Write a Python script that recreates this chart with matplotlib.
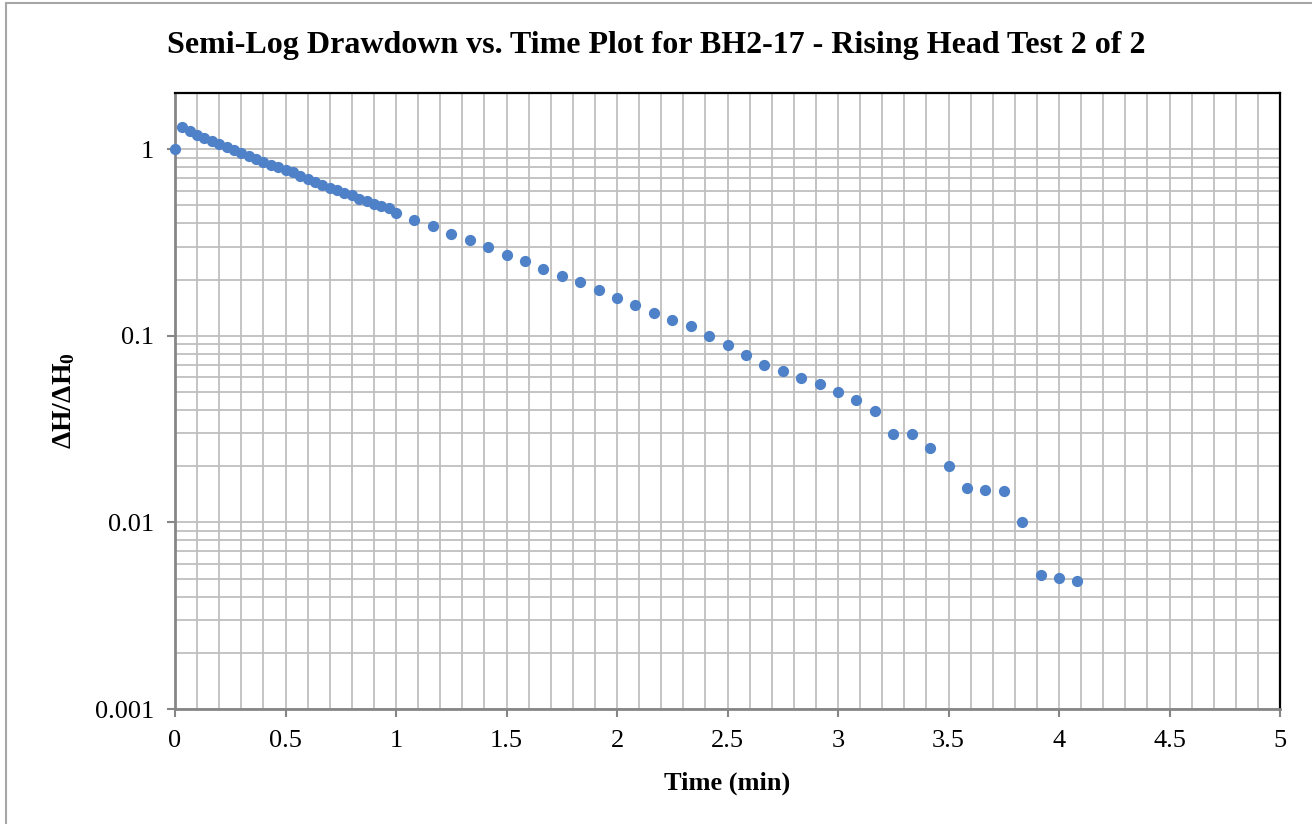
import matplotlib
matplotlib.use("Agg")
from matplotlib import pyplot as plt
from matplotlib.patches import Rectangle
from matplotlib.ticker import MultipleLocator, LogLocator, FixedLocator, FuncFormatter

plt.rcParams['font.family'] = ['Liberation Serif', 'DejaVu Serif']
plt.rcParams['mathtext.fontset'] = 'custom'
plt.rcParams['mathtext.rm'] = 'Liberation Serif:bold'
plt.rcParams['mathtext.it'] = 'Liberation Serif:bold'
plt.rcParams['mathtext.bf'] = 'Liberation Serif:bold'

# time (min): every 2 s up to 1 min, then every 5 s
time_early = [0, 1/30, 2/30, 3/30, 4/30, 5/30, 6/30, 7/30, 8/30, 9/30, 10/30,
              11/30, 12/30, 13/30, 14/30, 15/30, 16/30, 17/30, 18/30, 19/30, 20/30,
              21/30, 22/30, 23/30, 24/30, 25/30, 26/30, 27/30, 28/30, 29/30, 30/30]
head_early = [1.0, 1.307, 1.244, 1.193, 1.141, 1.100, 1.060, 1.021, 0.988, 0.952, 0.917,
              0.887, 0.852, 0.821, 0.798, 0.778, 0.750, 0.717, 0.691, 0.668, 0.641,
              0.620, 0.603, 0.583, 0.565, 0.544, 0.527, 0.509, 0.497, 0.481, 0.456]

time_late = [13/12, 14/12, 15/12, 16/12, 17/12, 18/12, 19/12, 20/12, 21/12, 22/12,
             23/12, 24/12, 25/12, 26/12, 27/12, 28/12, 29/12, 30/12, 31/12, 32/12,
             33/12, 34/12, 35/12, 36/12, 37/12, 38/12, 39/12, 40/12, 41/12, 42/12,
             43/12, 44/12, 45/12, 46/12, 47/12, 48/12, 49/12]
head_late = [0.417, 0.387, 0.352, 0.328, 0.299, 0.272, 0.251, 0.229, 0.208, 0.195,
             0.176, 0.160, 0.146, 0.133, 0.122, 0.113, 0.0996, 0.0895, 0.0788, 0.0697,
             0.0647, 0.0596, 0.0551, 0.0501, 0.0454, 0.0393, 0.0297, 0.0297, 0.0251, 0.0200,
             0.0152, 0.0149, 0.0148, 0.0100, 0.00525, 0.00504, 0.00485]

times = time_early + time_late
heads = head_early + head_late

fig = plt.figure(figsize=(13.12, 8.24), dpi=100)
ax = fig.add_axes([175/1312, 1 - 709/824, (1280 - 175)/1312, (709 - 93)/824])

# outer chart border
fig.patches.append(Rectangle((6/1312, -0.01), 1.0, 1 - 3/824 + 0.01, transform=fig.transFigure,
                             fill=False, edgecolor='#A6A6A6', linewidth=1.5))

ax.set_yscale('log')
ax.set_xlim(0, 5)
ax.set_ylim(0.001, 2)

ax.xaxis.set_major_locator(MultipleLocator(0.5))
ax.xaxis.set_minor_locator(MultipleLocator(0.1))
ax.yaxis.set_major_locator(FixedLocator([0.001, 0.01, 0.1, 1]))
ax.yaxis.set_minor_locator(LogLocator(base=10, subs=range(2, 10)))
ax.xaxis.set_major_formatter(FuncFormatter(lambda v, p: '%g' % v))
ax.yaxis.set_major_formatter(FuncFormatter(lambda v, p: '%g' % v))
ax.yaxis.set_minor_formatter(FuncFormatter(lambda v, p: ''))

ax.grid(True, which='both', color='#BFBFBF', linewidth=1.3)
ax.set_axisbelow(True)

ax.scatter(times, heads, s=50, color='#4F81C8', zorder=3, clip_on=False)

for side in ['top', 'right']:
    ax.spines[side].set_color('black')
    ax.spines[side].set_linewidth(1.6)
for side in ['left', 'bottom']:
    ax.spines[side].set_color('#868686')
    ax.spines[side].set_linewidth(2)

ax.tick_params(axis='both', which='major', length=6, width=1.5, color='#868686',
               labelsize=19, pad=9)
ax.tick_params(axis='both', which='minor', length=0)

fig.text(0.5, 1 - 46/824, 'Semi-Log Drawdown vs. Time Plot for BH2-17 - Rising Head Test 2 of 2',
         ha='center', va='center', fontsize=23, fontweight='bold')
ax.set_xlabel('Time (min)', fontsize=19, fontweight='bold', labelpad=14)
ax.set_ylabel(r'ΔH/ΔH$_0$', fontsize=20, fontweight='bold', labelpad=13)

fig.savefig('out.png', dpi=100)
